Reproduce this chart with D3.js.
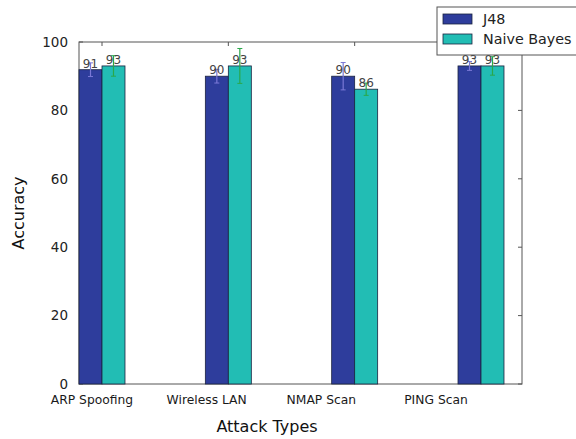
<!DOCTYPE html>
<html><head><meta charset="utf-8">
<script src="https://cdn.jsdelivr.net/npm/d3@7"></script>
<style>body{margin:0;background:#fff}svg{display:block}text{font-family:"DejaVu Sans",sans-serif}</style>
</head><body><svg id="c" width="576" height="439"></svg>
<script>
const categories = ["ARP Spoofing", "Wireless LAN", "NMAP Scan", "PING Scan"];
const j48 = [91.9, 90, 90, 93];
const naiveBayes = [93, 93, 86.2, 93];
const j48Err = [2, 2, 4, 1.3];
const nbErr = [3, 5.1, 1.8, 2.7];
const yTicks = [0, 20, 40, 60, 80, 100];
const seriesNames = ["J48", "Naive Bayes"];

const svg = d3.select("#c");
const L = 79, R = 522, T = 42, B = 384;
const y = d3.scaleLinear().domain([0, 100]).range([B, T]);
const x = d3.scaleLinear().domain([0, 3]).range([102, 481]);
const xl = d3.scaleLinear().domain([0, 3]).range([92, 436]);
const bw = x(0.182) - x(0);
const colors = ["#2e3d9c", "#22bdb4"];
const errColors = ["#7a78d6", "#2aa84a"];

// frame
svg.append("rect").attr("x", L).attr("y", T).attr("width", R - L).attr("height", B - T)
  .attr("fill", "none").attr("stroke", "#555").attr("stroke-width", 1);

// y ticks
const ya = svg.append("g");
yTicks.forEach(t => {
  ya.append("line").attr("x1", L).attr("x2", L + 4).attr("y1", y(t)).attr("y2", y(t)).attr("stroke", "#555");
  ya.append("line").attr("x1", R).attr("x2", R - 4).attr("y1", y(t)).attr("y2", y(t)).attr("stroke", "#555");
  ya.append("text").attr("x", 68).attr("y", y(t)).attr("dy", "0.35em").attr("text-anchor", "end")
    .attr("font-size", 13.5).attr("fill", "#222").text(t);
});
// x ticks
categories.forEach((c, i) => {
  svg.append("line").attr("x1", x(i)).attr("x2", x(i)).attr("y1", T).attr("y2", T + 4).attr("stroke", "#555");
  svg.append("line").attr("x1", x(i)).attr("x2", x(i)).attr("y1", B).attr("y2", B - 4).attr("stroke", "#555");
  svg.append("text").attr("x", xl(i)).attr("y", 404).attr("text-anchor", "middle")
    .attr("font-size", 12.3).attr("fill", "#1a1a1a").text(c);
});

const series = [j48, naiveBayes];
const errs = [j48Err, nbErr];
series.forEach((vals, s) => {
  const g = svg.append("g");
  vals.forEach((v, i) => {
    const x0 = x(i) - bw + s * bw;
    g.append("rect").attr("x", x0).attr("y", y(v)).attr("width", bw).attr("height", y(0) - y(v))
      .attr("fill", colors[s]).attr("stroke", "#1b2340").attr("stroke-width", 0.8);
  });
});
series.forEach((vals, s) => {
  vals.forEach((v, i) => {
    const cx = x(i) - bw / 2 + s * bw;
    const e = errs[s][i];
    svg.append("line").attr("x1", cx).attr("x2", cx).attr("y1", y(v - e)).attr("y2", y(v + e))
      .attr("stroke", errColors[s]).attr("stroke-width", 1.2);
    [v - e, v + e].forEach(ev => svg.append("line").attr("x1", cx - 2.5).attr("x2", cx + 2.5)
      .attr("y1", y(ev)).attr("y2", y(ev)).attr("stroke", errColors[s]).attr("stroke-width", 1));
    svg.append("text").attr("x", cx).attr("y", y(v) - 2).attr("text-anchor", "middle")
      .attr("font-size", 12).attr("fill", "#444").text(Math.floor(v));
  });
});

// axis titles
svg.append("text").attr("transform", "translate(24," + ((T + B) / 2) + ") rotate(-90)")
  .attr("text-anchor", "middle").attr("font-size", 16).attr("fill", "#111").text("Accuracy");
svg.append("text").attr("x", 267).attr("y", 432).attr("text-anchor", "middle")
  .attr("font-size", 16).attr("fill", "#111").text("Attack Types");

// legend
const lg = svg.append("g");
lg.append("rect").attr("x", 437).attr("y", 7).attr("width", 150).attr("height", 48)
  .attr("fill", "#fff").attr("stroke", "#555").attr("stroke-width", 1);
seriesNames.forEach((n, k) => {
  lg.append("rect").attr("x", 443).attr("y", 14 + k * 20).attr("width", 29).attr("height", 10)
    .attr("fill", colors[k]).attr("stroke", "#1b2340").attr("stroke-width", 0.8);
  lg.append("text").attr("x", 483).attr("y", 19 + k * 20).attr("dy", "0.35em")
    .attr("font-size", 14.3).attr("fill", "#222").text(n);
});
</script></body></html>
